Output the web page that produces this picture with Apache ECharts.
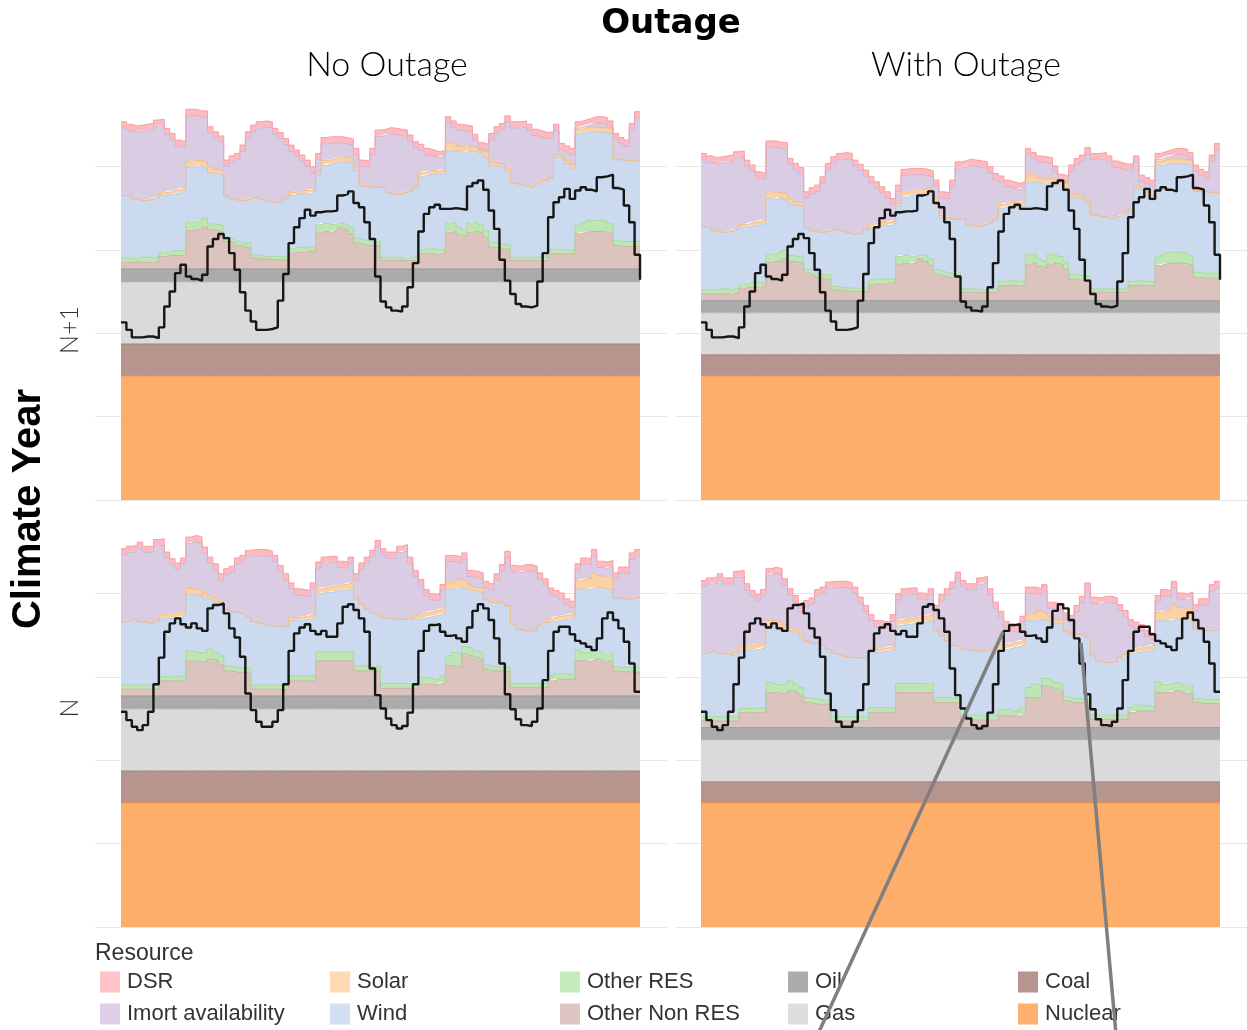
<!DOCTYPE html>
<html>
<head>
<meta charset="utf-8">
<script src="https://cdn.jsdelivr.net/npm/echarts@6/dist/echarts.min.js"></script>
<style>
  html, body { margin: 0; padding: 0; background: #ffffff; }
  #chart { width: 1247px; height: 1030px; }
</style>
</head>
<body>
<div id="chart"></div>
<script>
// Hourly dispatch stack over four days (97 step points: hour 0 .. 96).
const hourIndex = Array.from({ length: 97 }, (_, i) => i);

// Facet labels
const outageCols = ['No Outage', 'With Outage'];
const climateRows = ['N+1', 'N'];

// Flat thermal capacity (GW) per outage case: [No Outage, With Outage]
const nuclearLevel = [14.9, 14.9];
const coalLevel = [3.8, 2.5];
const gasLevel = [7.4, 5.0];
const oilLevel = [1.6, 1.5];
// Demand side response band (GW) per climate year, same in every hour
const dsrLevel = [0.75, 0.75];

// ---- Climate year N+1 ----
const nonResN1 = [0.8,0.8,0.8,0.8,0.8,0.8,0.9, 1.5,1.6,1.6,1.6,1.7, 4.6,4.7,4.7,5.0,4.7,4.6,4.4, 3.3,3.1,2.8,2.6,2.6,
  1.3,1.2,1.2,1.1,1.1,1.1,1.1, 1.9,2.0,2.0,2.1,2.1, 4.4,4.5,4.4,4.6,5.0,4.7,4.2, 3.1,2.9,2.8,2.8,2.8,
  1.0,1.0,1.0,1.0,1.0,1.0,1.0, 1.8,1.8,1.8,1.8,1.9, 4.4,4.5,4.1,3.9,4.4,4.5,4.3,3.8, 2.6,2.5,2.4,2.3,
  1.0,1.0,1.0,1.0,1.0,1.0,1.0, 1.8,1.8,1.8,1.8,1.8, 4.2,4.4,4.5,4.5,4.5,4.4,4.2, 2.8,2.7,2.7,2.7,2.7, 2.7];
const resN1 = [0.5,0.5,0.5,0.6,0.6,0.6,0.6, 0.5,0.5,0.6,0.6,0.5, 1.0,1.0,1.1,1.1,0.7,0.7,0.8, 0.5,0.5,0.5,0.5,0.5,
  0.4,0.4,0.3,0.4,0.4,0.4,0.5, 0.6,0.6,0.6,0.5,0.5, 0.9,1.0,0.9,0.8,0.5,0.6,0.8, 0.6,0.6,0.5,0.4,0.6,
  0.4,0.4,0.4,0.3,0.3,0.4,0.4, 0.5,0.6,0.6,0.5,0.5, 1.1,1.1,0.9,0.8,1.1,1.1,1.0,0.8, 0.6,0.6,0.6,0.6,
  0.4,0.4,0.4,0.4,0.4,0.4,0.4, 0.5,0.6,0.5,0.5,0.5, 1.0,1.1,1.3,1.3,1.3,1.3,1.2, 0.6,0.6,0.6,0.6,0.6, 0.6];
const windN1 = [7.5,7.4,7.1,6.8,6.8,7.0,7.0, 6.8,6.8,6.8,6.9,7.0, 6.6,6.5,6.6,6.0,6.1,6.1,6.1, 4.9,4.8,4.9,5.1,5.3,
  6.9,6.8,6.7,6.5,6.5,6.5,6.8, 6.3,6.4,6.4,6.4,6.6, 6.0,6.9,7.3,7.3,7.3,7.5,7.6, 8.1,6.4,6.5,6.5,6.4,
  8.4,7.7,7.5,7.7,7.9,8.0,8.3, 8.8,8.9,9.0,9.0,9.0, 8.6,8.6,9.0,9.3,8.7,8.4,8.5,8.8, 9.2,9.2,9.2,8.8,
  8.9,8.7,8.6,8.4,8.6,8.8,9.0, 8.5,11.0,11.0,10.3,9.7, 11.0,10.8,10.6,10.6,10.6,10.6,10.8, 9.7,9.7,9.7,9.7,9.6, 9.6];
const solarN1 = [0,0,0,0,0,0,0.1, 0.3,0.3,0.4,0.4,0.5, 0.7,0.8,0.6,0.7,0.7,0.5,0.5, 0.1,0,0,0,0,
  0,0,0,0,0,0.1,0.2, 0.4,0.3,0.4,0.4,0.4, 0.4,0.6,0.5,0.5,0.5,0.6,0.7, 0.4,0.3,0.1,0.1,0,
  0,0,0,0,0,0,0.1, 0.4,0.4,0.4,0.4,0.5, 1.0,0.9,0.7,0.6,0.5,0.5,0.4,0.6, 0.4,0.4,0.3,0.3,
  0,0,0,0,0,0.1,0.2, 0.2,0.3,0.3,0.4,0.5, 0.5,0.6,0.6,0.6,0.6,0.6,0.6, 0.1,0.1,0,0,0, 0];
const importN1 = [8.1,7.9,8.0,8.3,8.4,8.3,8.5, 8.1,6.9,6.1,5.2,4.8, 5.5,5.4,5.2,5.4,4.1,3.8,3.4, 3.5,4.4,4.9,5.9,7.3,
  7.9,8.5,8.8,8.9,8.1,7.5,6.3, 4.9,4.2,3.5,2.9,1.9, 1.4,2.0,2.0,1.9,1.8,1.6,1.5, 1.5,2.1,2.3,3.9,6.1,
  6.2,7.1,7.2,7.0,6.7,5.9,4.7, 2.7,2.0,1.7,1.6,1.6, 2.4,1.9,1.9,1.9,1.7,0.9,0.2,0.2, 2.7,3.6,4.2,5.6,
  6.6,6.8,7.0,6.8,6.0,5.5,5.0, 4.7,2.9,0.7,1.0,1.2, 0.2,0.2,0.3,0.5,0.5,0.5,0.2, 2.3,1.9,1.7,3.7,5.2, 5.2];
const demandN1 = [21.3,20.4,19.5,19.5,19.6,19.6,19.4,20.7,23.2,25.0,27.2,28.2,
  26.8,26.5,26.3,27.0,30.4,31.3,31.9,31.4,29.6,27.6,24.9,22.7,
  21.4,20.4,20.4,20.5,20.7,23.9,27.1,30.8,32.7,33.8,34.8,34.1,
  34.5,34.6,34.6,34.7,36.5,36.7,37.0,35.6,35.1,33.3,31.3,26.8,
  23.8,23.1,22.7,22.6,23.2,25.5,28.4,32.2,34.3,35.1,35.4,34.9,
  34.9,35.0,34.9,34.8,37.6,38.0,38.3,37.2,34.7,32.5,28.8,26.3,
  24.7,23.5,23.2,23.1,23.3,26.2,29.6,33.9,35.7,36.3,37.3,36.1,
  37.1,37.5,37.2,37.0,38.7,38.8,39.0,37.4,37.2,35.3,33.3,29.4, 26.4];

// ---- Climate year N ----
const nonResN = [0.8,0.8,0.8,0.8,0.8,0.8,0.8, 1.8,1.8,1.8,1.8,1.8, 4.2,4.2,4.1,4.1,4.4,4.2,3.8, 3.0,2.9,2.8,2.8,2.8,
  0.8,0.8,0.8,0.8,0.8,0.8,0.8, 1.8,1.8,1.8,1.8,1.8, 4.2,4.2,4.2,4.2,4.2,4.2,4.2, 3.0,3.0,3.0,3.0,3.0,
  0.9,0.9,0.9,0.9,0.9,0.9,0.9, 1.4,1.4,1.4,1.4,1.6, 3.6,3.6,3.4,5.0,4.8,4.6,4.4,3.2, 3.0,3.0,3.0,2.9,
  1.0,1.0,1.0,1.0,1.0,1.0,1.0, 1.8,2.0,2.0,2.0,2.0, 4.2,4.2,4.2,4.4,4.4,4.1,4.2, 3.0,2.9,2.9,2.9,2.8, 2.8];
const resN = [0.5,0.5,0.5,0.5,0.5,0.5,0.5, 0.5,0.5,0.5,0.6,0.5, 1.2,1.0,1.1,1.2,1.2,1.0,1.0, 0.6,0.6,0.6,0.5,0.5,
  0.5,0.5,0.5,0.5,0.5,0.5,0.5, 0.6,0.6,0.6,0.6,0.6, 1.1,1.1,1.1,1.1,1.1,1.1,1.2, 0.6,0.6,0.6,0.5,0.6,
  0.6,0.6,0.6,0.6,0.6,0.6,0.6, 0.8,0.8,0.6,0.6,0.8, 1.2,1.6,1.6,0.9,0.9,0.8,0.8,0.5, 0.5,0.5,0.4,0.5,
  0.5,0.5,0.5,0.5,0.5,0.5,0.5, 0.6,0.7,0.7,0.6,0.5, 1.3,1.0,1.1,1.0,0.9,0.9,0.9, 0.5,0.5,0.5,0.5,0.5, 0.5];
const windN = [7.6,7.8,7.9,7.6,7.5,7.4,7.6, 6.9,7.0,7.0,7.0,7.3, 6.8,6.9,6.8,6.4,5.9,6.0,6.0, 6.7,6.6,6.6,6.5,6.1,
  7.6,7.4,7.2,7.1,7.1,7.0,6.9, 6.6,6.6,6.7,6.8,6.9, 6.9,7.1,7.1,7.3,7.3,7.4,7.4, 8.0,7.4,6.8,6.4,6.1,
  7.9,7.8,7.7,7.7,7.7,7.7,7.7, 7.1,7.2,7.6,7.7,7.5, 8.0,7.6,7.9,7.0,7.0,7.1,7.2,7.8, 7.7,7.7,7.7,7.4,
  7.1,6.5,6.3,6.3,6.4,6.9,7.1, 6.5,6.3,6.4,6.6,6.8, 7.3,7.6,7.5,7.6,7.7,7.8,7.6, 8.2,8.2,8.2,8.3,8.5, 8.5];
const solarN = [0,0,0,0,0,0,0.1, 0.5,0.5,0.6,0.6,0.5, 0.7,0.7,0.7,0.6,0.5,0.5,0.5, 0.1,0,0,0,0,
  0,0,0,0,0,0.1,0.2, 0.4,0.4,0.4,0.4,0.5, 0.6,0.6,0.7,0.6,0.7,0.7,0.8, 0.1,0,0,0,0,
  0,0,0,0,0,0.1,0.4, 0.6,0.6,0.6,0.6,0.6, 0.8,0.9,1.1,0.9,0.6,0.5,0.5,0.1, 0,0,0,0,
  0,0,0,0,0,0.1,0.2, 0.4,0.5,0.5,0.5,0.6, 1.0,1.2,1.3,1.7,1.4,1.4,1.6, 0.1,0.1,0,0,0, 0];
const importN = [8.0,8.1,8.1,8.8,8.4,8.5,9.0, 8.4,6.7,5.8,5.2,5.7, 5.4,5.7,5.6,4.8,3.9,3.4,2.6, 4.1,4.7,5.8,6.3,7.3,
  7.9,8.1,8.3,8.2,7.7,6.5,5.5, 3.4,2.7,2.5,2.3,3.0, 2.5,2.9,2.9,2.8,2.1,1.9,2.3, 2.2,4.2,5.5,6.8,8.2,
  7.5,7.2,7.3,8.0,8.2,6.6,4.7, 3.3,2.0,1.3,1.1,2.1, 2.5,2.4,1.9,2.6,1.0,1.2,1.1,1.4, 1.5,2.7,3.9,5.8,
  6.3,6.8,7.2,7.2,6.9,5.5,4.5, 2.9,2.4,2.0,1.2,0.7, 1.3,1.8,1.6,2.1,1.0,1.1,1.2, 2.2,3.0,3.1,4.7,5.0, 5.0];
const demandN = [25.8,24.8,24.0,23.6,24.2,25.8,29.1,32.3,35.4,36.4,37.0,36.3,
  35.9,36.4,35.8,35.5,38.2,38.6,38.8,37.6,35.8,34.7,32.4,28.0,
  26.0,24.6,24.0,24.0,24.6,26.0,29.1,33.1,35.2,35.9,36.3,35.5,
  35.1,35.5,34.8,34.8,36.4,38.4,38.7,38.0,37.0,35.4,31.0,27.8,
  26.2,25.0,24.2,23.8,24.1,25.7,29.1,33.1,35.5,36.2,36.3,35.4,
  34.9,35.0,34.6,34.2,35.9,37.9,38.7,38.2,36.8,34.6,31.6,27.9,
  26.1,24.9,24.2,24.1,24.6,26.2,29.6,33.1,35.4,36.0,36.0,35.1,
  34.3,34.0,33.6,33.2,34.6,37.0,37.7,36.8,35.8,34.2,31.6,28.2, 28.2];

const rowSeries = [
  { nonRes: nonResN1, res: resN1, wind: windN1, solar: solarN1, imports: importN1, demand: demandN1 },
  { nonRes: nonResN,  res: resN,  wind: windN,  solar: solarN,  imports: importN,  demand: demandN }
];

// Resource styling: legend swatch, area fill, top edge
const resourceStyle = {
  'Nuclear':            { swatch: '#FFAF6E', fill: '#FDAE6B', edge: '#F0893A' },
  'Coal':               { swatch: '#B5958E', fill: '#B5958E', edge: '#A5837B' },
  'Gas':                { swatch: '#DDDDDD', fill: '#DADADA', edge: '#CDCDCD' },
  'Oil':                { swatch: '#ABABAB', fill: '#ABABAB', edge: '#9A9A9A' },
  'Other Non RES':      { swatch: '#DDC6C1', fill: '#DCC3BD', edge: '#D2B0A9' },
  'Other RES':          { swatch: '#C3EBBB', fill: '#BEE6B4', edge: '#A6DB9C' },
  'Wind':               { swatch: '#D2DEF2', fill: '#CBDAEF', edge: '#B9CCE9' },
  'Solar':              { swatch: '#FFD9B0', fill: '#FCD2A4', edge: '#F8BC82' },
  'Imort availability': { swatch: '#DDD0E6', fill: '#DACCE3', edge: '#CDB7DA' },
  'DSR':                { swatch: '#FFC2C6', fill: '#FDBBC0', edge: '#FB9CA5' }
};

// Panel geometry (px): columns = outage case, rows = climate year.
// Each panel has a background grid (guide lines over the full panel width)
// and an inset data grid where hour 0 .. 96 is drawn.
const panelLeft = [95, 675];
const panelW = 572;
const dataInset = 26, dataW = 519;
const rowTop = [91.3, 518.3];
const panelH = 408.7;
const yMax = 49;

const grids = [], xAxes = [], yAxes = [], series = [];
const yAxisBase = {
  type: 'value', min: 0, max: yMax, interval: 10,
  axisLine: { show: false }, axisTick: { show: false }, axisLabel: { show: false }
};

// background guide grids (indices 0..3)
for (let r = 0; r < 2; r++) {
  for (let c = 0; c < 2; c++) {
    const gi = grids.length;
    grids.push({ left: panelLeft[c], top: rowTop[r], width: panelW, height: panelH });
    xAxes.push({ type: 'value', gridIndex: gi, min: 0, max: 1, show: false });
    yAxes.push(Object.assign({}, yAxisBase, {
      gridIndex: gi,
      splitLine: { show: true, showMaxLine: false, lineStyle: { color: '#E8E8E8', width: 1 } }
    }));
  }
}

// data grids (indices 4..7)
for (let r = 0; r < 2; r++) {
  for (let c = 0; c < 2; c++) {
    const gi = grids.length;
    grids.push({ left: panelLeft[c] + dataInset, top: rowTop[r], width: dataW, height: panelH });
    xAxes.push({ type: 'category', gridIndex: gi, data: hourIndex, boundaryGap: false, show: false });
    yAxes.push(Object.assign({}, yAxisBase, { gridIndex: gi, splitLine: { show: false } }));

    const rs = rowSeries[r];
    const layers = [
      ['Nuclear', hourIndex.map(() => nuclearLevel[c])],
      ['Coal', hourIndex.map(() => coalLevel[c])],
      ['Gas', hourIndex.map(() => gasLevel[c])],
      ['Oil', hourIndex.map(() => oilLevel[c])],
      ['Other Non RES', rs.nonRes],
      ['Other RES', rs.res],
      ['Wind', rs.wind],
      ['Solar', rs.solar],
      ['Imort availability', rs.imports],
      ['DSR', hourIndex.map(() => dsrLevel[r])]
    ];
    layers.forEach(([name, vals]) => {
      const st = resourceStyle[name];
      series.push({
        type: 'line', name, xAxisIndex: gi, yAxisIndex: gi, stack: 'dispatch' + gi, step: 'end',
        data: vals,
        showSymbol: false, symbol: 'none', silent: true,
        itemStyle: { color: st.swatch },
        lineStyle: { color: st.edge, width: 1 },
        areaStyle: { color: st.fill, opacity: 1 },
        z: 2
      });
    });
    series.push({
      type: 'line', name: 'Demand', xAxisIndex: gi, yAxisIndex: gi, step: 'end',
      data: rs.demand,
      showSymbol: false, symbol: 'none', silent: true,
      lineStyle: { color: '#161616', width: 2.4 },
      z: 5
    });
  }
}

// Legend laid out in five columns of two entries
const legendCols = [['DSR', 'Imort availability'], ['Solar', 'Wind'], ['Other RES', 'Other Non RES'], ['Oil', 'Gas'], ['Coal', 'Nuclear']];
const legendLeft = [100, 330, 560, 788, 1018];
const legends = legendCols.map((names, k) => ({
  orient: 'vertical', left: legendLeft[k], top: 971, padding: 0,
  itemWidth: 20, itemHeight: 21, itemGap: 10, selectedMode: false,
  data: names.map(n => ({ name: n, icon: 'rect', itemStyle: { color: resourceStyle[n].swatch, borderWidth: 0 } })),
  textStyle: { fontSize: 22, color: '#333333', fontFamily: '"Liberation Sans", Arial, sans-serif', padding: [0, 0, 0, 2] }
}));

const chart = echarts.init(document.getElementById('chart'), null, { renderer: 'canvas' });
chart.setOption({
  animation: false,
  backgroundColor: '#ffffff',
  grid: grids,
  xAxis: xAxes,
  yAxis: yAxes,
  legend: legends,
  series,
  graphic: [
    { type: 'text', x: 671, y: 24, style: { text: 'Outage', font: 'bold 34px "DejaVu Sans"', fill: '#000000', align: 'center', verticalAlign: 'middle' } },
    { type: 'text', x: 387, y: 65, style: { text: outageCols[0], font: '300 34px Lato', fill: '#000000', align: 'center', verticalAlign: 'middle' } },
    { type: 'text', x: 966, y: 65, style: { text: outageCols[1], font: '300 34px Lato', fill: '#000000', align: 'center', verticalAlign: 'middle' } },
    { type: 'text', x: 70, y: 330, rotation: Math.PI / 2, style: { text: climateRows[0], font: '300 25px Lato', fill: '#333333', align: 'center', verticalAlign: 'middle' } },
    { type: 'text', x: 70, y: 708, rotation: Math.PI / 2, style: { text: climateRows[1], font: '300 25px Lato', fill: '#333333', align: 'center', verticalAlign: 'middle' } },
    { type: 'text', x: 29, y: 509, rotation: Math.PI / 2, style: { text: 'Climate Year', font: 'bold 40px "Liberation Sans"', fill: '#000000', align: 'center', verticalAlign: 'middle' } },
    { type: 'text', x: 95, y: 954, style: { text: 'Resource', font: '23px "Liberation Sans"', fill: '#333333', align: 'left', verticalAlign: 'middle' } },
    { type: 'line', z: 100, shape: { x1: 1003, y1: 632, x2: 818, y2: 1034 }, style: { stroke: '#7f7f7f', lineWidth: 3.5 } },
    { type: 'line', z: 100, shape: { x1: 1081, y1: 643, x2: 1116, y2: 1034 }, style: { stroke: '#7f7f7f', lineWidth: 3.5 } }
  ]
});
</script>
</body>
</html>
